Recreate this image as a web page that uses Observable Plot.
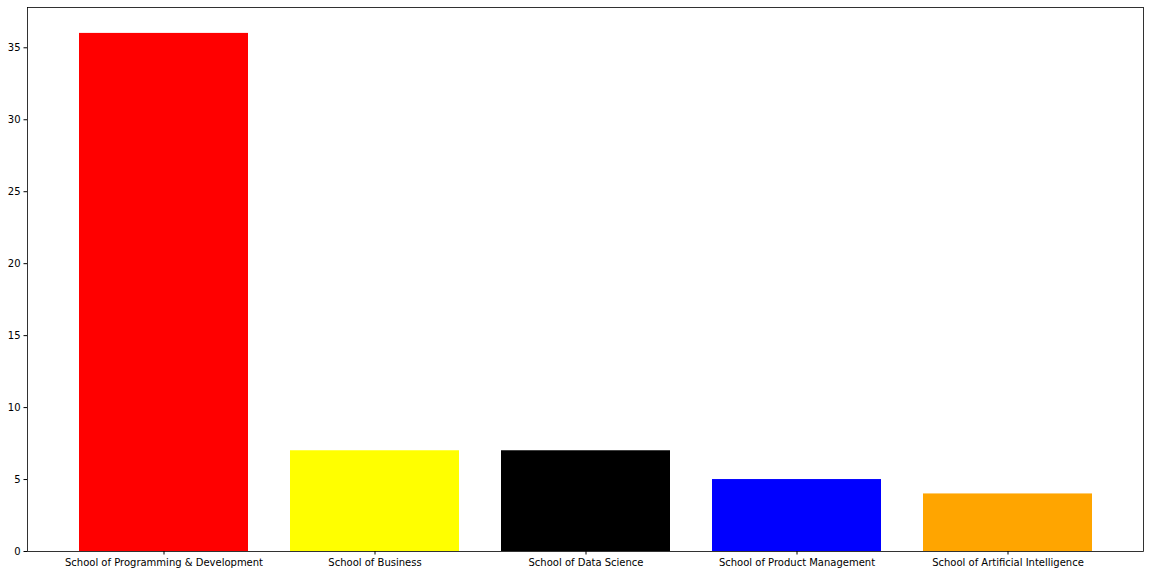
<!DOCTYPE html>
<html>
<head>
<meta charset="utf-8">
<script src="https://cdn.jsdelivr.net/npm/d3@7"></script>
<script src="https://cdn.jsdelivr.net/npm/@observablehq/plot@0.6"></script>
<style>
  html, body { margin: 0; padding: 0; background: #fff; }
  #chart svg { display: block; }
</style>
</head>
<body>
<div id="chart"></div>
<script>
const schools = ["School of Programming & Development", "School of Business", "School of Data Science", "School of Product Management", "School of Artificial Intelligence"];
const counts = [36, 7, 7, 5, 4];
const colors = ["#ff0000", "#ffff00", "#000000", "#0000ff", "#ffa500"];
const yTicks = [0, 5, 10, 15, 20, 25, 30, 35];

const data = schools.map((s, i) => ({school: s, count: counts[i], color: colors[i]}));

const chart = Plot.plot({
  width: 1150,
  height: 575,
  marginLeft: 27,
  marginRight: 7,
  marginTop: 7,
  marginBottom: 24,
  style: {fontFamily: "DejaVu Sans", fontSize: "10px", color: "#000", background: "#fff"},
  x: {domain: schools, paddingInner: 0.2, paddingOuter: 0.24, label: null, tickSize: 3.5, tickPadding: 3.5},
  y: {domain: [0, 37.8], ticks: yTicks, label: null, tickSize: 3.5, tickPadding: 3.5},
  marks: [
    Plot.barY(data, {x: "school", y: "count", fill: "color"}),
    Plot.axisX({tickSize: 3.5, tickPadding: 3.5, fontSize: 10}),
    Plot.axisY({ticks: yTicks, tickSize: 3.5, tickPadding: 3.5, fontSize: 10}),
    Plot.frame({stroke: "#000", strokeWidth: 0.8})
  ]
});
document.getElementById("chart").appendChild(chart);
</script>
</body>
</html>
